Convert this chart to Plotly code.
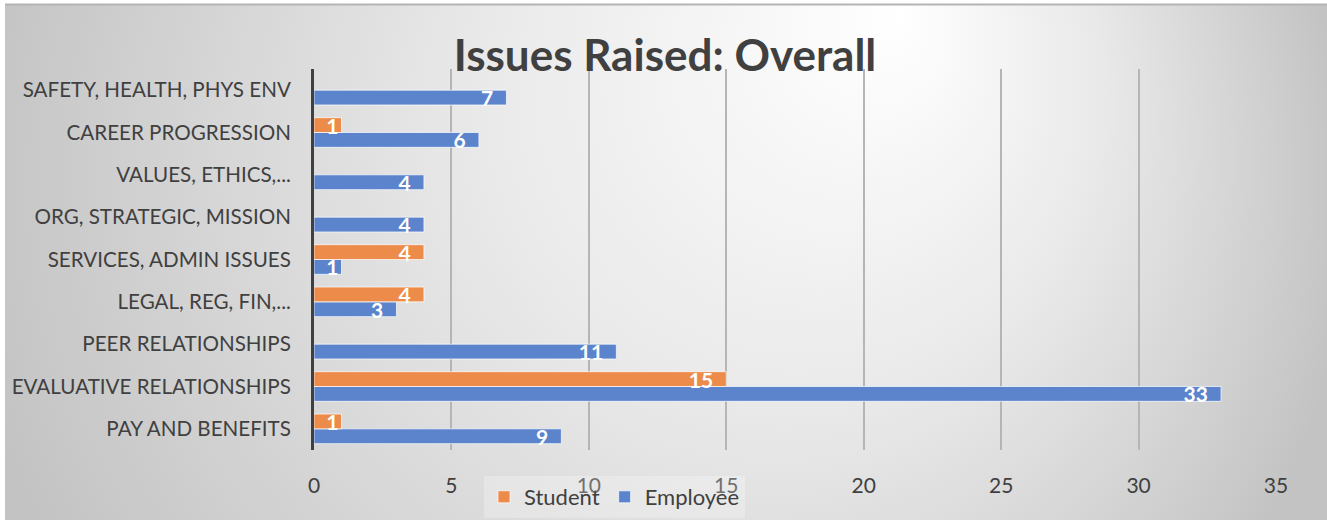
import base64
import plotly.graph_objects as go

categories = ["PAY AND BENEFITS", "EVALUATIVE RELATIONSHIPS", "PEER RELATIONSHIPS",
              "LEGAL, REG, FIN,...", "SERVICES, ADMIN ISSUES", "ORG, STRATEGIC, MISSION",
              "VALUES, ETHICS,...", "CAREER PROGRESSION", "SAFETY, HEALTH, PHYS ENV"]
student = [1, 15, None, 4, 4, None, None, 1, None]
employee = [9, 33, 11, 3, 1, 4, 4, 6, 7]
x_ticks = [0, 5, 10, 15, 20, 25, 30, 35]

W, H = 1327, 520
ML, MR, MT, MB = 314, 51, 69, 70
PW, PH = W - ML - MR, H - MT - MB

svg = f'''<svg xmlns="http://www.w3.org/2000/svg" width="{W}" height="{H}" viewBox="0 0 {W} {H}" preserveAspectRatio="none">
<defs><radialGradient id="g" gradientUnits="userSpaceOnUse" cx="650" cy="200" r="700" fx="900" fy="10">
<stop offset="0" stop-color="#ffffff"/><stop offset="0.45" stop-color="#e9e9e9"/><stop offset="1" stop-color="#c3c3c3"/>
</radialGradient></defs><rect x="0" y="0" width="{W}" height="{H}" fill="url(#g)"/></svg>'''
src = "data:image/svg+xml;base64," + base64.b64encode(svg.encode()).decode()

def px2x(px):
    return (px - ML) / PW

def px2y(py):
    return 1 - (py - MT) / PH

FONT = "Lato"
TXT = "#404040"
NB = "\u00a0"

def label(v):
    if v is None:
        return ""
    return f"{v}{NB*2}" if v > 1 else f"{v}"

fig = go.Figure()
fig.add_trace(go.Bar(
    name="Employee", y=categories, x=employee, orientation="h",
    marker=dict(color="#5b84cc", line=dict(color="rgba(255,255,255,0.7)", width=1)),
    text=[label(v) for v in employee],
    textposition="inside", insidetextanchor="end", constraintext="none", textangle=0,
    textfont=dict(family=FONT, size=21, color="white", weight="bold"),
))
fig.add_trace(go.Bar(
    name="Student", y=categories, x=student, orientation="h",
    marker=dict(color="#ec8b4a", line=dict(color="rgba(255,255,255,0.7)", width=1)),
    text=[label(v) for v in student],
    textposition="inside", insidetextanchor="end", constraintext="none", textangle=0,
    textfont=dict(family=FONT, size=21, color="white", weight="bold"),
))

fig.update_layout(
    width=W, height=H,
    margin=dict(l=ML, r=MR, t=MT, b=MB, pad=0, autoexpand=False),
    paper_bgcolor="white", plot_bgcolor="rgba(0,0,0,0)",
    barmode="group", bargap=0.3, bargroupgap=0,
    font=dict(family=FONT, color=TXT),
    title=dict(text="<b>Issues Raised: Overall</b>", x=665 / W, xref="container", xanchor="center",
               y=1 - 56 / H, yref="container", yanchor="middle",
               font=dict(family=FONT, size=44, color=TXT)),
    xaxis=dict(range=[0, 35], tickvals=x_ticks, showgrid=True, gridcolor="#b5b5b5", gridwidth=1.5,
               zeroline=False, showline=False, tickfont=dict(family=FONT, size=21, color=TXT),
               ticklabelstandoff=21, fixedrange=True, automargin=False),
    yaxis=dict(showline=True, linecolor="#404040", linewidth=3, showgrid=False,
               tickfont=dict(family=FONT, size=20.6, color=TXT), ticklabelstandoff=16,
               categoryorder="array", categoryarray=categories, automargin=False),
    legend=dict(orientation="h", traceorder="reversed", x=px2x(484), xanchor="left",
                y=px2y(476), yanchor="top", bgcolor="rgba(255,255,255,0.25)",
                font=dict(family=FONT, size=22, color=TXT), itemwidth=30),
    showlegend=True,
    images=[dict(source=src, xref="paper", yref="paper", x=px2x(5), y=px2y(5),
                 sizex=(W - 5) / PW, sizey=(H - 5) / PH, sizing="stretch",
                 xanchor="left", yanchor="top", layer="below")],
    shapes=[dict(type="line", xref="paper", yref="paper", x0=px2x(5), x1=px2x(W),
                 y0=px2y(4.5), y1=px2y(4.5), line=dict(color="#b4b4b4", width=2))],
)

fig.write_html("out.html")
